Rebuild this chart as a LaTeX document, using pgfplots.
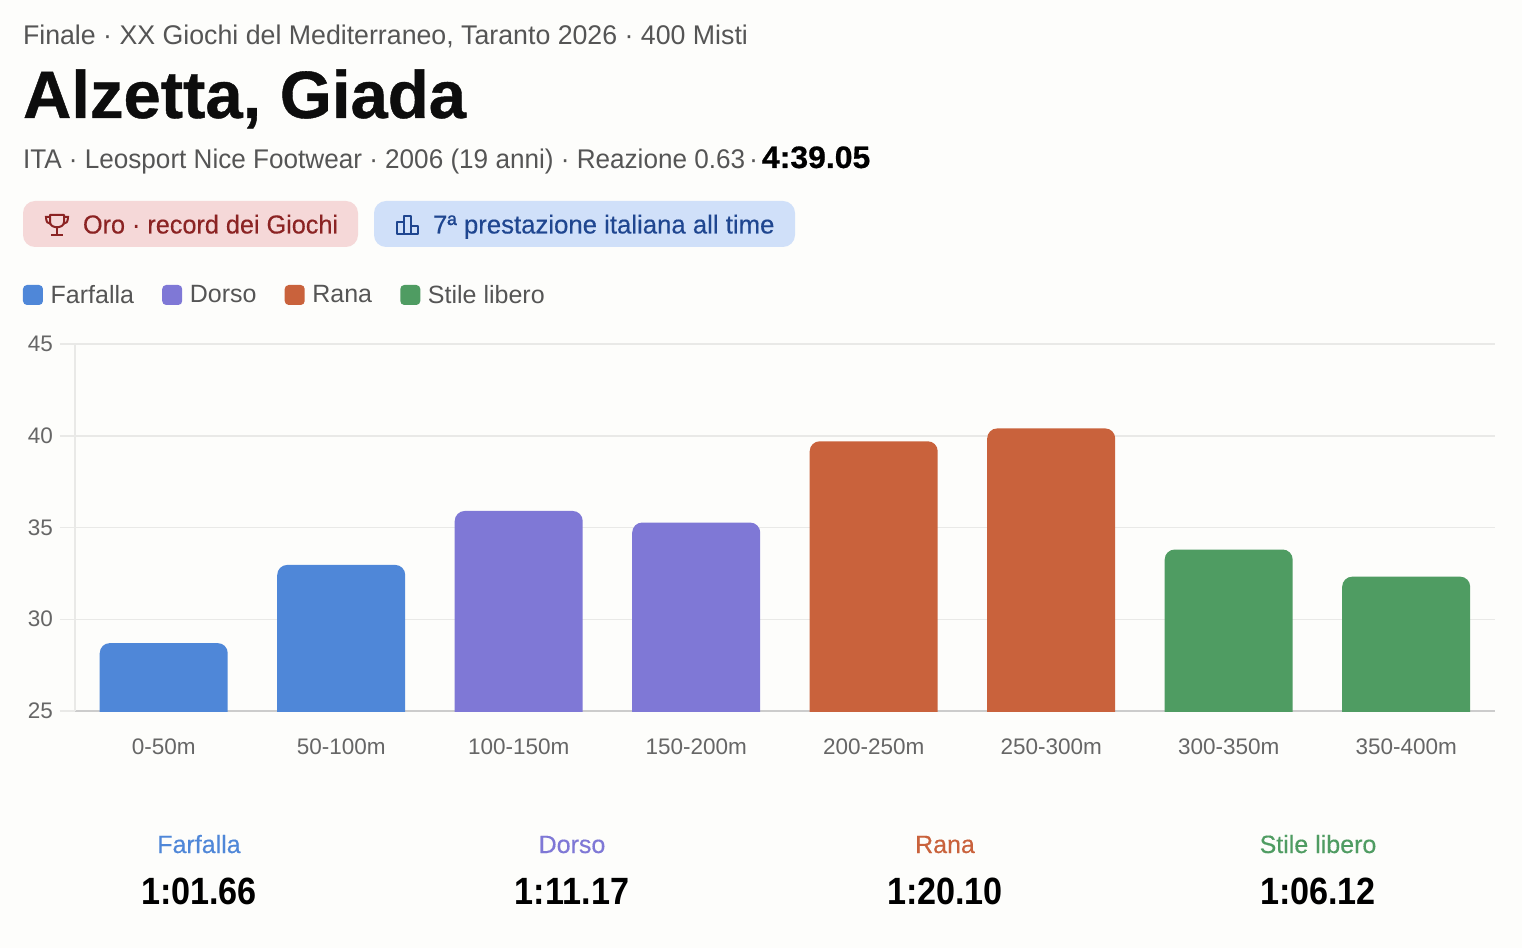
\documentclass[border=0pt]{standalone}
\usepackage{fontspec}
\setmainfont{Liberation Sans}
\newfontfamily\med[FakeBold=0.35]{Liberation Sans}
\newfontfamily\semi{Liberation Sans Bold}
\newfontfamily\hvy[FakeBold=0.6]{Liberation Sans Bold}
\usepackage{pgfplots}
\pgfplotsset{compat=1.18}
\definecolor{bg}{HTML}{FDFDFB}
\definecolor{farf}{HTML}{4F87D8}
\definecolor{dors}{HTML}{7F78D6}
\definecolor{rana}{HTML}{C9623C}
\definecolor{stil}{HTML}{4F9C62}
\definecolor{txt}{HTML}{555555}
\definecolor{tick}{HTML}{666666}
\definecolor{grd}{HTML}{E9E9E7}
\definecolor{pr}{HTML}{F5D8D8}
\definecolor{prt}{HTML}{8B2323}
\definecolor{pb}{HTML}{D0E0F9}
\definecolor{pbt}{HTML}{1F4690}
\newcommand{\fz}[1]{\fontsize{\dimexpr#1pt*3/4\relax}{\dimexpr#1pt*9/10\relax}\selectfont}
\begin{document}
\begin{tikzpicture}[every node/.style={inner sep=0pt,outer sep=0pt}]
\begin{scope}[x=0.75pt,y=-0.75pt]
\fill[bg] (0,0) rectangle (1522,948);
\node[anchor=base west,text=txt] at (23,45) {\scalebox{0.99}[1]{\fz{27}Finale · XX Giochi del Mediterraneo, Taranto 2026 · 400 Misti}};
\node[anchor=base west,text=black!95] at (23,118) {\scalebox{1}[1]{\fz{67}\hvy Alzetta, Giada}};
\node[anchor=base west,text=txt] at (23,169) {\scalebox{0.967}[1]{\fz{27}ITA · Leosport Nice Footwear · 2006 (19 anni) · Reazione 0.63}};
\node[anchor=base west,text=txt] at (749,169) {\fz{27}·};
\node[anchor=base west,text=black] at (762,168) {\scalebox{1.03}[1]{\fz{31}\hvy 4:39.05}};
\fill[pr,rounded corners=12*0.75pt] (23,201) rectangle (358,247);
\fill[pb,rounded corners=12*0.75pt] (374,201) rectangle (795,247);
\node[anchor=base west,text=prt] at (83,233.5) {\scalebox{0.97}[1]{\fz{26}\med Oro · record dei Giochi}};
\node[anchor=base west,text=pbt] at (433,233.5) {\scalebox{0.99}[1]{\fz{26}\med 7ª prestazione italiana all time}};
% trophy icon
\draw[prt,line width=1.5pt,line join=round] (50,215) -- (64,215) -- (64,222) .. controls (64,229) and (50,229) .. (50,222) -- cycle;
\draw[prt,line width=1.5pt] (50,217) -- (46,217) .. controls (46,222) and (48,224) .. (51,224);
\draw[prt,line width=1.5pt] (64,217) -- (68,217) .. controls (68,222) and (66,224) .. (63,224);
\draw[prt,line width=1.5pt] (57,228) -- (57,235) (51,235) -- (63,235);
% bars icon
\draw[pbt,line width=1.5pt,line join=round] (397,234) -- (397,222) -- (404,222) -- (404,216) -- (411,216) -- (411,226) -- (418,226) -- (418,234) -- cycle (404,222) -- (404,234) (411,226) -- (411,234);
\node[anchor=base,text=farf] at (199,853) {\fz{25}\med Farfalla};
\node[anchor=base,text=dors] at (572,853) {\fz{25}\med Dorso};
\node[anchor=base,text=rana] at (945,853) {\fz{25}\med Rana};
\node[anchor=base,text=stil] at (1318,853) {\fz{25}\med Stile libero};
\node[anchor=base,text=black] at (199,904) {\scalebox{0.9}[1]{\fz{38}\semi 1:01.66}};
\node[anchor=base,text=black] at (572,904) {\scalebox{0.9}[1]{\fz{38}\semi 1:11.17}};
\node[anchor=base,text=black] at (945,904) {\scalebox{0.9}[1]{\fz{38}\semi 1:20.10}};
\node[anchor=base,text=black] at (1318,904) {\scalebox{0.9}[1]{\fz{38}\semi 1:06.12}};
\end{scope}
\begin{axis}[
  at={(75*0.75pt,-711*0.75pt)},anchor=south west,
  scale only axis,width=1420*0.75pt,height=367*0.75pt,
  xmin=-0.5,xmax=7.5,ymin=25,ymax=45,
  xtick={0,...,7},
  xticklabels={0-50m,50-100m,100-150m,150-200m,200-250m,250-300m,300-350m,350-400m},
  ytick={25,30,35,40,45},
  ymajorgrids,
  grid style={grd,line width=1.5*0.75pt},
  axis x line*=bottom,axis y line*=left,
  x axis line style={draw=black!20,line width=1.5*0.75pt,-},
  y axis line style={draw=grd,line width=1.5*0.75pt,-},
  major tick length=15*0.75pt,
  tick align=outside,
  xtick style={draw=none},
  ytick style={draw=grd,line width=1.5*0.75pt},
  /pgf/number format/assume math mode=true,
  tick label style={text=tick,font=\fz{22.5}},
  xticklabel style={yshift=-13*0.75pt},
  yticklabel style={xshift=-7*0.75pt},
  legend columns=4,
  legend cell align=left,
  legend style={at={(-52*0.75pt,416*0.75pt)},anchor=west,draw=none,fill=none,
    font=\fz{25},text=txt,inner sep=0pt,outer sep=0pt,
    /tikz/every odd column/.append style={column sep=5*0.75pt},
    /tikz/every even column/.append style={column sep=25.5*0.75pt}},
  legend image code/.code={\fill[#1,draw=none,rounded corners=3pt] (0pt,-7.5pt) rectangle (15pt,7.5pt);},
]
\addlegendimage{fill=farf}\addlegendentry{Farfalla}
\addlegendimage{fill=dors}\addlegendentry{Dorso}
\addlegendimage{fill=rana}\addlegendentry{Rana}
\addlegendimage{fill=stil}\addlegendentry{Stile libero}
\end{axis}
\begin{scope}
\clip (75*0.75pt,-300*0.75pt) rectangle (1495*0.75pt,-711*0.75pt);
\begin{axis}[
  at={(75*0.75pt,-729.35*0.75pt)},anchor=south west,
  scale only axis,width=1420*0.75pt,height=385.35*0.75pt,
  xmin=-0.5,xmax=7.5,ymin=24,ymax=45,
  hide axis,
  ybar,bar width=128*0.75pt,
]
\addplot[fill=farf,draw=none,bar shift=0pt,rounded corners=7.5pt] coordinates {(0,28.70)(1,32.96)};
\addplot[fill=dors,draw=none,bar shift=0pt,rounded corners=7.5pt] coordinates {(2,35.90)(3,35.27)};
\addplot[fill=rana,draw=none,bar shift=0pt,rounded corners=7.5pt] coordinates {(4,39.70)(5,40.40)};
\addplot[fill=stil,draw=none,bar shift=0pt,rounded corners=7.5pt] coordinates {(6,33.80)(7,32.32)};
\end{axis}
\end{scope}
\end{tikzpicture}
\end{document}
